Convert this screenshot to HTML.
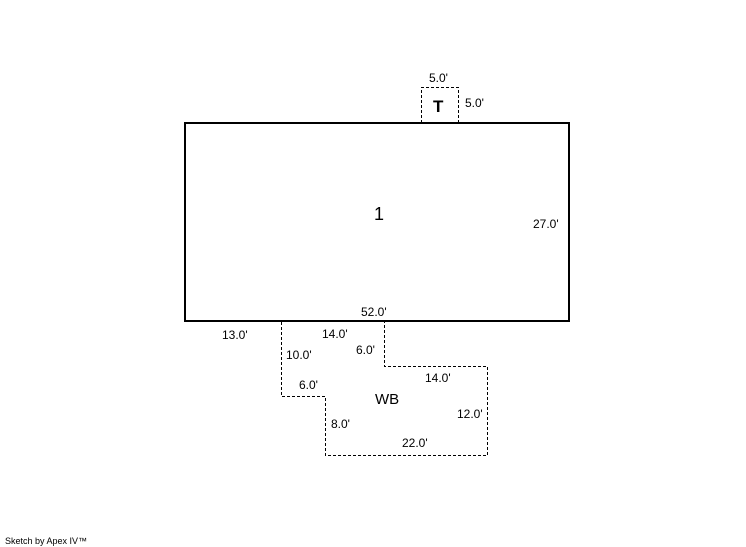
<!DOCTYPE html>
<html><head><style>body{margin:0;background:#fff}svg{display:block}text{font-family:"Liberation Sans",sans-serif;font-size:12px;fill:#000}</style></head><body>
<svg width="746" height="547" viewBox="0 0 746 547">
<rect x="185" y="123" width="384" height="198" fill="none" stroke="#000" stroke-width="2"/>
<path d="M421.5 123V87.5H458.5V123" fill="none" stroke="#000" stroke-dasharray="3,2"/>
<path d="M281.5 322V396.5H325.5V455.5H487.5V366.5H384.5V322" fill="none" stroke="#000" stroke-dasharray="3,2"/>
<text x="429" y="82">5.0'</text>
<text x="465" y="107">5.0'</text>
<text x="433" y="112" style="font-size:17px;font-weight:bold">T</text>
<text x="374" y="220" style="font-size:18px">1</text>
<text x="533" y="228">27.0'</text>
<text x="361" y="316">52.0'</text>
<text x="222" y="339">13.0'</text>
<text x="322" y="338">14.0'</text>
<text x="356" y="354">6.0'</text>
<text x="286" y="359">10.0'</text>
<text x="425" y="382">14.0'</text>
<text x="299" y="389">6.0'</text>
<text x="375" y="404" style="font-size:15px">WB</text>
<text x="457" y="418">12.0'</text>
<text x="331" y="428">8.0'</text>
<text x="402" y="447">22.0'</text>
<text x="5" y="544" style="font-size:9px">Sketch by Apex IV™</text>
</svg>
</body></html>
